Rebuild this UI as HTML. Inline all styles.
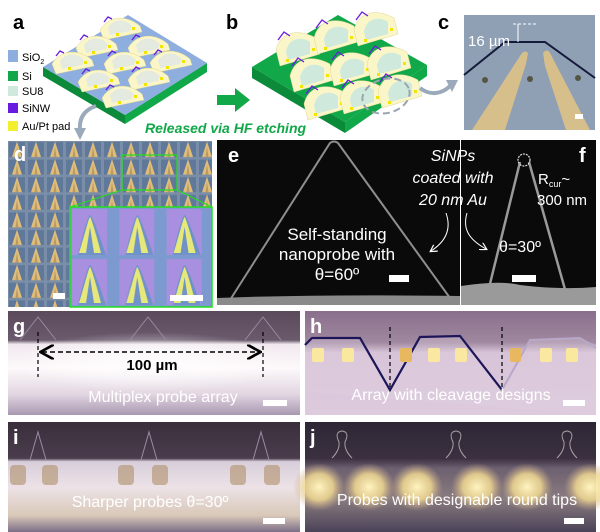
<!DOCTYPE html>
<html><head><meta charset="utf-8"><style>
html,body{margin:0;padding:0;background:#fff}
svg{display:block}
text{font-family:"Liberation Sans",Arial,sans-serif}
</style></head><body>
<svg width="600" height="532" viewBox="0 0 600 532" xmlns="http://www.w3.org/2000/svg">
<defs>
<g id="pr">
  <path d="M0,0 C8,-14 26,-16 40,-4 L42,2 L4,10 Z" fill="#fbf6c8" stroke="#e0d890" stroke-width="0.5"/>
  <path d="M8,-3 C14,-11 24,-12 32,-4 L30,1 L10,5 Z" fill="#e4eae0"/>
  <path d="M4,-8 L8,-13 L12,-11" fill="none" stroke="#6a1be0" stroke-width="1.3"/>
  <rect x="32" y="-3" width="3" height="3" fill="#f2e600"/>
  <rect x="16" y="3" width="3" height="3" fill="#f2e600"/>
</g>
<g id="pb">
  <path d="M0,0 C4,-18 22,-22 40,-12 L44,4 L4,16 Z" fill="#fbf6c8" stroke="#e0d890" stroke-width="0.5"/>
  <path d="M10,2 C12,-12 26,-14 34,-8 L34,4 L12,10 Z" fill="#cfe9dc"/>
  <path d="M2,-10 L8,-18 L14,-14" fill="none" stroke="#6a1be0" stroke-width="1.3"/>
  <rect x="36" y="-2" width="3" height="3" fill="#f2e600"/>
  <rect x="10" y="9" width="3" height="3" fill="#f2e600"/>
</g>
<pattern id="grid" x="8" y="141" width="19" height="17.6" patternUnits="userSpaceOnUse">
  <rect width="19" height="17.6" fill="#7a8ea8"/>
  <rect x="1" y="1" width="16" height="15" fill="#60789a"/>
  <path d="M9,0.5 L14,16 L4,16 Z" fill="#e0bd78"/>
  <path d="M9,6 L10.5,16 L7.5,16 Z" fill="#b89a62"/>
</pattern>
<pattern id="ingrid" x="70" y="207" width="47.3" height="50" patternUnits="userSpaceOnUse">
  <rect width="47.3" height="50" fill="#7d9ad0"/>
  <rect x="2" y="2" width="35" height="46" fill="#a98fe0"/>
  <path d="M20,8 C22,8 30,30 36,48 L8,48 C12,30 18,8 20,8 Z" fill="#6f92c8"/>
  <path d="M20,10 C21,10 27,30 31,46 L24,46 L20,20 L16,46 L9,46 C14,30 19,10 20,10 Z" fill="#e6e87a"/>
</pattern>
<linearGradient id="gBot" x1="0" y1="0" x2="0" y2="1">
  <stop offset="0" stop-color="#5a4a5c"/><stop offset="0.28" stop-color="#6a5a6c"/>
  <stop offset="0.32" stop-color="#f0e8ee"/><stop offset="0.55" stop-color="#fdf9fa"/>
  <stop offset="0.8" stop-color="#e2d6e2"/><stop offset="1" stop-color="#a898b0"/>
</linearGradient>
<linearGradient id="iBot" x1="0" y1="0" x2="0" y2="1">
  <stop offset="0" stop-color="#3a2e3c"/><stop offset="0.33" stop-color="#4a3c4c"/>
  <stop offset="0.36" stop-color="#d8cedb"/><stop offset="0.6" stop-color="#ece2e6"/>
  <stop offset="0.85" stop-color="#d9c8b8"/><stop offset="1" stop-color="#7b6e86"/>
</linearGradient>
<linearGradient id="jBot" x1="0" y1="0" x2="0" y2="1">
  <stop offset="0" stop-color="#2e2636"/><stop offset="0.33" stop-color="#3a3040"/>
  <stop offset="0.42" stop-color="#6d6070"/><stop offset="0.7" stop-color="#8a7c80"/>
  <stop offset="1" stop-color="#4a4258"/>
</linearGradient>
<linearGradient id="hBg" x1="0" y1="0" x2="0" y2="1">
  <stop offset="0" stop-color="#8a6f8c"/><stop offset="0.3" stop-color="#a088a0"/>
  <stop offset="0.4" stop-color="#d8c4d8"/><stop offset="1" stop-color="#ddcadd"/>
</linearGradient>
<radialGradient id="blob"><stop offset="0" stop-color="#fff4c0"/><stop offset="0.55" stop-color="#f0d890" stop-opacity="0.85"/><stop offset="1" stop-color="#c8a888" stop-opacity="0"/></radialGradient>
<radialGradient id="wblob"><stop offset="0" stop-color="#ffffff"/><stop offset="1" stop-color="#ffffff" stop-opacity="0"/></radialGradient>
<marker id="ah" markerWidth="8" markerHeight="8" refX="6" refY="4" orient="auto"><path d="M0,0 L7,4 L0,8" fill="none" stroke="#fff" stroke-width="1.2"/></marker>
<marker id="ak" markerWidth="10" markerHeight="10" refX="8" refY="5" orient="auto-start-reverse"><path d="M0,0 L9,5 L0,10" fill="none" stroke="#000" stroke-width="1.8"/></marker>
</defs>

<!-- Panel a -->
<text x="13" y="29" font-size="20" font-weight="bold">a</text>
<path d="M43,67 L125,115 L125,124 L43,76 Z" fill="#0b8a3a"/>
<path d="M125,115 L207,63 L207,72 L125,124 Z" fill="#10a848"/>
<path d="M128,15 L207,63 L125,115 L43,67 Z" fill="#8eaee0"/>
<use href="#pr" x="100" y="30"/>
<use href="#pr" x="76" y="48"/>
<use href="#pr" x="128" y="48"/>
<use href="#pr" x="52" y="64"/>
<use href="#pr" x="104" y="64"/>
<use href="#pr" x="150" y="63"/>
<use href="#pr" x="78" y="82"/>
<use href="#pr" x="128" y="80"/>
<use href="#pr" x="102" y="98"/>
<rect x="8" y="50" width="10" height="12" fill="#8eaee0"/>
<rect x="8" y="71" width="10" height="10" fill="#10a848"/>
<rect x="8" y="86" width="10" height="10" fill="#cfe9dc"/>
<rect x="8" y="103" width="10" height="10" fill="#6a1be0"/>
<rect x="8" y="121" width="10" height="10" fill="#f4ee30"/>
<text x="22" y="61" font-size="11">SiO<tspan font-size="7" dy="3">2</tspan></text>
<text x="22" y="80" font-size="11">Si</text>
<text x="22" y="95" font-size="11">SU8</text>
<text x="22" y="112" font-size="11">SiNW</text>
<text x="22" y="130" font-size="11">Au/Pt pad</text>
<path d="M96,106 C84,110 79,118 80,130" fill="none" stroke="#9aaabb" stroke-width="4"/>
<path d="M74,128 L80,140 L86,128 Z" fill="#9aaabb"/>

<!-- Panel b -->
<text x="226" y="29" font-size="20" font-weight="bold">b</text>
<path d="M217,95 L235,95 L235,88 L250,100 L235,112 L235,105 L217,105 Z" fill="#10a848"/>
<path d="M252,67 L345,122 L345,133 L252,78 Z" fill="#0b8a3a"/>
<path d="M345,122 L427,65 L427,76 L345,133 Z" fill="#10a848"/>
<path d="M338,15 L427,65 L345,122 L252,67 Z" fill="#10a848"/>
<use href="#pb" x="276" y="50"/>
<use href="#pb" x="314" y="38"/>
<use href="#pb" x="354" y="30"/>
<use href="#pb" x="290" y="76"/>
<use href="#pb" x="330" y="70"/>
<use href="#pb" x="367" y="64"/>
<use href="#pb" x="304" y="104"/>
<use href="#pb" x="340" y="98"/>
<use href="#pb" x="378" y="92"/>
<ellipse cx="386" cy="96" rx="24" ry="17" fill="none" stroke="#9aa4b0" stroke-width="2" stroke-dasharray="7,4" transform="rotate(-15 386 96)"/>
<path d="M420,88 C430,96 442,94 450,86" fill="none" stroke="#9aaabb" stroke-width="4"/>
<path d="M446,80 L458,80 L452,92 Z" fill="#9aaabb"/>
<text x="145" y="133" font-size="14" font-weight="bold" font-style="italic" fill="#10a848">Released via HF etching</text>

<!-- Panel c -->
<text x="438" y="29" font-size="20" font-weight="bold">c</text>
<rect x="464" y="15" width="131" height="115" fill="#8f9fb4"/>
<path d="M464,75 L505,42 L545,42 L595,78" fill="none" stroke="#141a3a" stroke-width="2"/>
<path d="M472,130 L520,56 Q524,49 528,53 L526,64 L505,130 Z" fill="#d7bf8c"/>
<path d="M543,53 Q547,48 550,53 L590,130 L566,130 L545,66 Z" fill="#d7bf8c"/>
<circle cx="485" cy="80" r="3" fill="#554"/><circle cx="530" cy="79" r="3" fill="#554"/><circle cx="578" cy="78" r="3" fill="#554"/>
<path d="M513,24 L538,24" stroke="#fff" stroke-dasharray="3,2"/>
<path d="M518,24 L518,42" stroke="#fff"/>
<text x="468" y="46" font-size="15" fill="#fff">16 µm</text>
<rect x="575" y="114" width="8" height="5" fill="#fff"/>

<!-- Panel d -->
<rect x="8" y="141" width="204" height="166" fill="url(#grid)"/>
<text x="14" y="161" font-size="20" font-weight="bold" fill="#fff">d</text>
<rect x="122" y="155" width="55" height="35" fill="none" stroke="#22e01c" stroke-width="1.2"/>
<path d="M122,190 L70,207 M177,190 L212,207" stroke="#22e01c" stroke-width="1"/>
<rect x="70" y="207" width="142" height="100" fill="url(#ingrid)" stroke="#22e01c" stroke-width="1.5"/>
<rect x="53" y="293" width="12" height="6" fill="#fff"/>
<rect x="170" y="295" width="33" height="6" fill="#fff"/>

<!-- Panel e -->
<rect x="217" y="140" width="243" height="165" fill="#0a0a0a"/>
<path d="M217,298 Q320,294 460,296 L460,305 L217,305 Z" fill="#8a8a8a"/>
<path d="M230,300 L330,143 Q334,140 338,143 L450,298" fill="none" stroke="#8e8e8e" stroke-width="2"/>
<text x="228" y="162" font-size="20" font-weight="bold" fill="#fff">e</text>
<text x="337" y="240" font-size="17" fill="#fff" text-anchor="middle">Self-standing</text>
<text x="337" y="260" font-size="17" fill="#fff" text-anchor="middle">nanoprobe with</text>
<text x="337" y="280" font-size="17" fill="#fff" text-anchor="middle">θ=60º</text>
<rect x="389" y="275" width="20" height="7" fill="#fff"/>
<!-- Panel f -->
<rect x="461" y="140" width="135" height="165" fill="#0a0a0a"/>
<path d="M461,286 Q500,280 520,285 Q560,290 596,287 L596,305 L461,305 Z" fill="#9a9a9a"/>
<path d="M486,300 L520,162 M529,162 L568,300" stroke="#9a9a9a" stroke-width="2.5"/>
<circle cx="524" cy="160" r="6" fill="none" stroke="#ddd" stroke-width="1.2" stroke-dasharray="2,1"/>
<text x="579" y="162" font-size="20" font-weight="bold" fill="#fff">f</text>
<text x="538" y="184" font-size="15" fill="#fff">R<tspan font-size="9" dy="3">cur</tspan><tspan dy="-3">~</tspan></text>
<text x="537" y="205" font-size="15" fill="#fff">300 nm</text>
<text x="520" y="252" font-size="16" fill="#fff" text-anchor="middle">θ=30º</text>
<rect x="512" y="275" width="24" height="7" fill="#fff"/>
<text x="453" y="161" font-size="16" font-style="italic" fill="#fff" text-anchor="middle">SiNPs</text>
<text x="453" y="183" font-size="16" font-style="italic" fill="#fff" text-anchor="middle">coated with</text>
<text x="453" y="205" font-size="16" font-style="italic" fill="#fff" text-anchor="middle">20 nm Au</text>
<path d="M446,213 C452,230 445,242 431,251" fill="none" stroke="#fff" stroke-width="1" marker-end="url(#ah)"/>
<path d="M467,213 C462,230 470,240 486,249" fill="none" stroke="#fff" stroke-width="1" marker-end="url(#ah)"/>

<!-- Panel g -->
<rect x="8" y="311" width="292" height="104" fill="url(#gBot)"/>
<ellipse cx="150" cy="362" rx="140" ry="30" fill="url(#wblob)" opacity="0.9"/>
<path d="M20,340 L38,317 L56,340 M130,340 L148,317 L166,340 M245,340 L263,317 L281,340" fill="none" stroke="#9a8aa4" stroke-width="1"/>
<text x="13" y="333" font-size="20" font-weight="bold" fill="#fff">g</text>
<path d="M38,332 L38,377 M263,332 L263,377" stroke="#000" stroke-width="1.2" stroke-dasharray="4,3"/>
<path d="M42,352 L259,352" stroke="#000" stroke-width="1.5" stroke-dasharray="5,3" marker-start="url(#ak)" marker-end="url(#ak)"/>
<text x="152" y="370" font-size="15" font-weight="bold" text-anchor="middle">100 µm</text>
<text x="163" y="402" font-size="16" fill="#fff" text-anchor="middle">Multiplex probe array</text>
<rect x="263" y="400" width="24" height="6" fill="#fff"/>

<!-- Panel h -->
<rect x="305" y="311" width="291" height="104" fill="url(#hBg)"/>
<path d="M305,392 L305,345 L312,338 L360,338 L390,392 L420,337 L460,336 L502,392 L530,340 L580,338 L596,345 L596,415" fill="#e0d0e0" opacity="0.35"/>
<path d="M305,345 L312,338 L360,338 L390,390 L420,337 L460,336 L502,390" fill="none" stroke="#1c1658" stroke-width="2.2"/>
<path d="M502,390 L530,340 L580,338 L596,348" fill="none" stroke="#b8a8c8" stroke-width="2"/>
<g fill="#fbe8a0">
<rect x="312" y="348" width="12" height="14" rx="2"/><rect x="342" y="348" width="12" height="14" rx="2"/>
<rect x="400" y="348" width="12" height="14" rx="2" fill="#e8b860"/><rect x="428" y="348" width="12" height="14" rx="2"/><rect x="455" y="348" width="12" height="14" rx="2"/>
<rect x="510" y="348" width="11" height="14" rx="2" fill="#e8b860"/><rect x="540" y="348" width="12" height="14" rx="2"/><rect x="566" y="348" width="12" height="14" rx="2"/>
</g>
<text x="310" y="333" font-size="20" font-weight="bold" fill="#fff">h</text>
<path d="M390,327 L390,390 M502,327 L502,390" stroke="#000" stroke-width="1.2" stroke-dasharray="4,3"/>
<text x="451" y="400" font-size="16" fill="#fff" text-anchor="middle">Array with cleavage designs</text>
<rect x="563" y="400" width="22" height="6" fill="#fff"/>

<!-- Panel i -->
<rect x="8" y="422" width="292" height="110" fill="url(#iBot)"/>
<g fill="#b0906a" opacity="0.6">
<rect x="10" y="465" width="16" height="20" rx="4"/><rect x="42" y="465" width="16" height="20" rx="4"/>
<rect x="118" y="465" width="16" height="20" rx="4"/><rect x="152" y="465" width="16" height="20" rx="4"/>
<rect x="230" y="465" width="16" height="20" rx="4"/><rect x="264" y="465" width="16" height="20" rx="4"/>
</g>
<path d="M30,460 L38,432 L46,460 M141,460 L149,432 L157,460 M253,460 L261,432 L269,460" fill="none" stroke="#9a8aa4" stroke-width="1"/>
<text x="13" y="444" font-size="20" font-weight="bold" fill="#fff">i</text>
<text x="150" y="507" font-size="16" fill="#fff" text-anchor="middle">Sharper probes θ=30º</text>
<rect x="263" y="518" width="22" height="6" fill="#fff"/>

<!-- Panel j -->
<rect x="305" y="422" width="291" height="110" fill="url(#jBot)"/>
<g>
<ellipse cx="319" cy="487" rx="26" ry="24" fill="url(#blob)"/><ellipse cx="369" cy="487" rx="26" ry="24" fill="url(#blob)"/>
<ellipse cx="417" cy="487" rx="26" ry="24" fill="url(#blob)"/><ellipse cx="477" cy="487" rx="26" ry="24" fill="url(#blob)"/>
<ellipse cx="527" cy="487" rx="26" ry="24" fill="url(#blob)"/><ellipse cx="590" cy="487" rx="26" ry="24" fill="url(#blob)"/>
</g>
<g fill="none" stroke="#a8a0a0" stroke-width="1">
<path d="M332,458 Q340,450 339,442 Q334,432 342,431 Q350,432 345,442 Q344,450 352,458"/>
<path d="M446,458 Q454,450 453,442 Q448,432 456,431 Q464,432 459,442 Q458,450 466,458"/>
<path d="M557,458 Q565,450 564,442 Q559,432 567,431 Q575,432 570,442 Q569,450 577,458"/>
</g>
<text x="310" y="444" font-size="20" font-weight="bold" fill="#fff">j</text>
<text x="457" y="505" font-size="16" fill="#fff" text-anchor="middle">Probes with designable round tips</text>
<rect x="564" y="518" width="20" height="6" fill="#fff"/>
</svg>
</body></html>
